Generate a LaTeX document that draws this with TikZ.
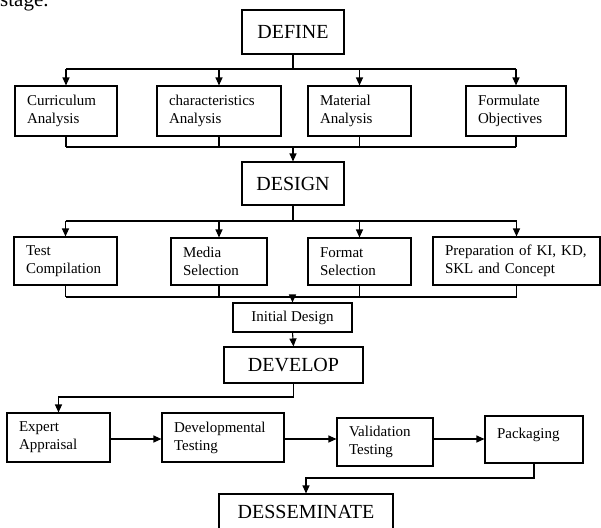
\documentclass[tikz,border=0pt]{standalone}
\usepackage{fontspec}
\setmainfont{Liberation Serif}
\usetikzlibrary{arrows.meta,calc}
\begin{document}
\begin{tikzpicture}[x=1pt,y=-1pt,
  ln/.style={line width=1.1pt,draw=black},
  arr/.style={ln,-{Triangle[length=8pt,width=7pt]}},
  bigbox/.style={draw,line width=1.1pt,inner sep=0pt,align=center,font=\fontsize{20}{24}\selectfont},
  smallbox/.style={draw,line width=1.1pt,inner xsep=12pt,inner ysep=0pt,align=left,font=\fontsize{15}{18}\selectfont},
  midbox/.style={draw,line width=1.1pt,inner sep=0pt,align=center,font=\fontsize{15}{18}\selectfont}]
\useasboundingbox (0,0) rectangle (601,527);
\clip (0,0) rectangle (601,527);
\node[anchor=base west,inner sep=0pt,font=\fontsize{21}{25}\selectfont] (stg) at (0,7) {stage.};
% DEFINE
\node[bigbox,minimum width=102pt,minimum height=44pt] (DEFINE) at (293,32) {DEFINE};
\node[smallbox,text width=78pt,minimum height=50pt] (Curr) at (66,111) {Curriculum\\Analysis};
\node[smallbox,text width=100pt,minimum height=50pt] (Char) at (219,111) {characteristics\\Analysis};
\node[smallbox,text width=79pt,minimum height=50pt] (Mat) at (359.5,111) {Material\\Analysis};
\node[smallbox,text width=76pt,minimum height=50pt] (Form) at (516,111) {Formulate\\Objectives};
% DESIGN
\node[bigbox,minimum width=102pt,minimum height=43pt] (DESIGN) at (293,183.5) {DESIGN};
\node[smallbox,text width=79pt,minimum height=48pt] (Test) at (65.5,261) {Test\\Compilation};
\node[smallbox,text width=72pt,minimum height=47pt] (Media) at (219,261.5) {Media\\Selection};
\node[smallbox,text width=79pt,minimum height=47pt] (Format) at (359.5,261.5) {Format\\Selection};
\node[smallbox,text width=143pt,minimum height=48pt] (Prep) at (516.5,261) {Preparation of KI, KD,\\SKL and Concept};
\node[midbox,minimum width=119pt,minimum height=29pt] (Init) at (292.5,317.5) {Initial Design};
% DEVELOP
\node[bigbox,minimum width=139pt,minimum height=36pt] (DEVELOP) at (293.5,365) {DEVELOP};
\node[smallbox,text width=79pt,minimum height=49pt] (Expert) at (58.5,437.5) {Expert\\Appraisal};
\node[smallbox,text width=98pt,minimum height=49pt] (Devt) at (223,437.5) {Developmental\\Testing};
\node[smallbox,text width=72pt,minimum height=48pt] (Valid) at (385,442) {Validation\\Testing};
\node[smallbox,text width=74pt,minimum height=47pt,text depth=12pt] (Pack) at (534,439.5) {Packaging};
\node[bigbox,minimum width=174pt,minimum height=36pt] (DESS) at (306,512) {DESSEMINATE};
% bus levels
\coordinate (b1) at (0,69);
\coordinate (b2) at (0,147);
\coordinate (b3) at (0,221);
\coordinate (b4) at (0,297);
\coordinate (b5) at (0,397);
\coordinate (h) at (0,439);
\coordinate (b6) at (0,478);
% DEFINE connectors
\draw[ln] (DEFINE.south) -- (DEFINE.south |- b1);
\draw[ln] (Curr.north |- b1) -- (Form.north |- b1);
\foreach \n in {Curr,Char,Mat,Form} \draw[arr] (\n.north |- b1) -- (\n.north);
\foreach \n in {Curr,Char,Mat,Form} \draw[ln] (\n.south) -- (\n.south |- b2);
\draw[ln] (Curr.south |- b2) -- (Form.south |- b2);
\draw[arr] (DESIGN.north |- b2) -- (DESIGN.north);
% DESIGN connectors
\draw[ln] (DESIGN.south) -- (DESIGN.south |- b3);
\draw[ln] (Test.north |- b3) -- (Prep.north |- b3);
\foreach \n in {Test,Media,Format,Prep} \draw[arr] (\n.north |- b3) -- (\n.north);
\foreach \n in {Test,Media,Format,Prep} \draw[ln] (\n.south) -- (\n.south |- b4);
\draw[ln] (Test.south |- b4) -- (Prep.south |- b4);
\draw[arr] (Init.north |- b4) -- (Init.north);
\draw[arr] (Init.south) -- (DEVELOP.north);
% DEVELOP connectors
\draw[arr] (DEVELOP.south) -- (DEVELOP.south |- b5) -| (Expert.north);
\draw[arr] (Expert.east |- h) -- (Devt.west |- h);
\draw[arr] (Devt.east |- h) -- (Valid.west |- h);
\draw[arr] (Valid.east |- h) -- (Pack.west |- h);
\draw[arr] (Pack.south) -- (Pack.south |- b6) -| (DESS.north);
\end{tikzpicture}
\end{document}
